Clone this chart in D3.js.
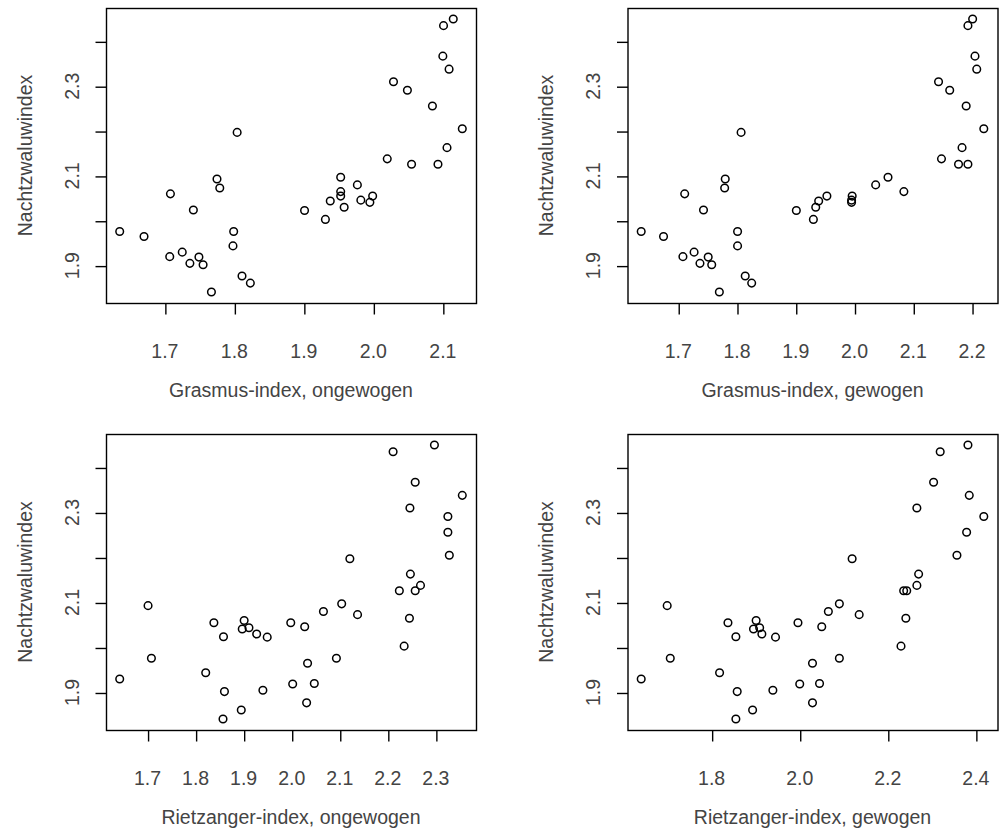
<!DOCTYPE html>
<html>
<head>
<meta charset="utf-8">
<script src="https://cdn.jsdelivr.net/npm/d3@7"></script>
<style>
  html, body { margin: 0; padding: 0; background: #fff; }
  svg { display: block; }
  text { font-family: "Liberation Sans", Arial, sans-serif; fill: #444; }
</style>
</head>
<body>
<svg id="chart" width="1000" height="834"></svg>
<script>
// Nachtzwaluw index (y) against four warbler indices (x), one value per year
const nachtzwaluw = [1.841, 1.861, 1.877, 1.902, 1.905, 1.919, 1.920, 1.930, 1.944, 1.965,
                     1.976, 1.976, 2.003, 2.023, 2.024, 2.030, 2.041, 2.044, 2.046, 2.055,
                     2.055, 2.060, 2.065, 2.073, 2.080, 2.093, 2.097, 2.126, 2.126, 2.138,
                     2.163, 2.197, 2.205, 2.256, 2.291, 2.310, 2.338, 2.367, 2.435, 2.450];

const grasmusOngewogen = [1.767, 1.823, 1.811, 1.755, 1.736, 1.749, 1.707, 1.725, 1.798, 1.670,
                          1.635, 1.799, 1.931, 1.901, 1.741, 1.958, 1.995, 1.938, 1.982, 1.953,
                          1.999, 1.708, 1.953, 1.779, 1.977, 1.775, 1.953, 2.055, 2.093, 2.020,
                          2.106, 1.804, 2.128, 2.085, 2.049, 2.029, 2.109, 2.100, 2.101, 2.115];

const grasmusGewogen = [1.770, 1.825, 1.814, 1.757, 1.737, 1.751, 1.708, 1.727, 1.801, 1.675,
                        1.637, 1.801, 1.930, 1.901, 1.743, 1.934, 1.995, 1.939, 1.995, 1.953,
                        1.996, 1.711, 2.084, 1.779, 2.036, 1.780, 2.057, 2.177, 2.193, 2.148,
                        2.183, 1.807, 2.220, 2.190, 2.162, 2.143, 2.208, 2.205, 2.193, 2.201];

const rietzangerOngewogen = [1.857, 1.895, 2.031, 1.860, 1.940, 2.002, 2.047, 1.642, 1.821, 2.033,
                             1.708, 2.093, 2.234, 1.949, 1.858, 1.927, 1.897, 1.911, 2.027, 1.838,
                             1.998, 1.901, 2.245, 2.137, 2.066, 1.701, 2.104, 2.257, 2.224, 2.268,
                             2.247, 2.121, 2.328, 2.325, 2.325, 2.246, 2.355, 2.257, 2.211, 2.297];

const rietzangerGewogen = [1.855, 1.893, 2.029, 1.858, 1.939, 2.000, 2.045, 1.640, 1.818, 2.029,
                           1.706, 2.090, 2.230, 1.945, 1.855, 1.914, 1.895, 1.909, 2.050, 1.837,
                           1.996, 1.901, 2.241, 2.135, 2.065, 1.699, 2.090, 2.236, 2.243, 2.266,
                           2.270, 2.119, 2.357, 2.379, 2.418, 2.266, 2.385, 2.304, 2.319, 2.382];

// Axis ticks and labels
const yTicks = [1.9, 2.0, 2.1, 2.2, 2.3, 2.4];
const yTickLabels = [1.9, 2.1, 2.3];
const xTicksGrasmusOngewogen = [1.7, 1.8, 1.9, 2.0, 2.1];
const xTicksGrasmusGewogen = [1.7, 1.8, 1.9, 2.0, 2.1, 2.2];
const xTicksRietzangerOngewogen = [1.7, 1.8, 1.9, 2.0, 2.1, 2.2, 2.3];
const xTicksRietzangerGewogen = [1.8, 2.0, 2.2, 2.4];

const yTitle = "Nachtzwaluwindex";
const xTitles = ["Grasmus-index, ongewogen", "Grasmus-index, gewogen",
                 "Rietzanger-index, ongewogen", "Rietzanger-index, gewogen"];

const panels = [
  { x: grasmusOngewogen,    xTicks: xTicksGrasmusOngewogen,    title: xTitles[0], left: 106,   top: 8,   w: 370, h: 295 },
  { x: grasmusGewogen,      xTicks: xTicksGrasmusGewogen,      title: xTitles[1], left: 627.5, top: 8,   w: 370, h: 295 },
  { x: rietzangerOngewogen, xTicks: xTicksRietzangerOngewogen, title: xTitles[2], left: 106,   top: 434, w: 370, h: 296 },
  { x: rietzangerGewogen,   xTicks: xTicksRietzangerGewogen,   title: xTitles[3], left: 627.5, top: 434, w: 370, h: 296 }
];

// data range widened by 4% on each side
function paddedDomain(values) {
  const [lo, hi] = d3.extent(values);
  const pad = (hi - lo) * 0.04;
  return [lo - pad, hi + pad];
}

const svg = d3.select("#chart");
const fmt = d3.format(".1f");
const fontSize = 19.5;
const tickLen = 11;
const lineW = 1.4;

panels.forEach(p => {
  const g = svg.append("g").attr("transform", `translate(${p.left},${p.top})`);
  const xs = d3.scaleLinear().domain(paddedDomain(p.x)).range([0, p.w]);
  const ys = d3.scaleLinear().domain(paddedDomain(nachtzwaluw)).range([p.h, 0]);

  // plot box
  g.append("rect")
    .attr("x", 0.5).attr("y", 0.5)
    .attr("width", p.w).attr("height", p.h)
    .attr("fill", "none").attr("stroke", "#000").attr("stroke-width", lineW);

  // x axis
  const xAxis = d3.axisBottom(xs).tickValues(p.xTicks).tickSize(tickLen).tickFormat("");
  const gx = g.append("g").attr("transform", `translate(0.5,${p.h + 0.5})`).call(xAxis);
  gx.select(".domain").remove();
  gx.selectAll(".tick line").attr("stroke", "#000").attr("stroke-width", lineW);
  g.selectAll(".xlab").data(p.xTicks).enter().append("text")
    .attr("class", "xlab")
    .attr("x", d => xs(d))
    .attr("y", p.h + 55)
    .attr("text-anchor", "middle")
    .attr("font-size", fontSize)
    .text(d => fmt(d));

  // y axis
  const yAxis = d3.axisLeft(ys).tickValues(yTicks).tickSize(tickLen).tickFormat("");
  const gy = g.append("g").attr("transform", "translate(0.5,0.5)").call(yAxis);
  gy.select(".domain").remove();
  gy.selectAll(".tick line").attr("stroke", "#000").attr("stroke-width", lineW);
  g.selectAll(".ylab").data(yTickLabels).enter().append("text")
    .attr("class", "ylab")
    .attr("transform", d => `translate(-27.5,${ys(d)}) rotate(-90)`)
    .attr("text-anchor", "middle")
    .attr("font-size", fontSize)
    .text(d => fmt(d));

  // axis titles
  g.append("text")
    .attr("x", p.w / 2).attr("y", p.h + 94)
    .attr("text-anchor", "middle")
    .attr("font-size", fontSize)
    .text(p.title);
  g.append("text")
    .attr("transform", `translate(-74.5,${p.h / 2}) rotate(-90)`)
    .attr("text-anchor", "middle")
    .attr("font-size", fontSize)
    .text(yTitle);

  // points
  g.selectAll("circle").data(d3.range(nachtzwaluw.length)).enter().append("circle")
    .attr("cx", i => xs(p.x[i]))
    .attr("cy", i => ys(nachtzwaluw[i]))
    .attr("r", 3.8)
    .attr("fill", "none")
    .attr("stroke", "#000")
    .attr("stroke-width", 1.5);
});
</script>
</body>
</html>
